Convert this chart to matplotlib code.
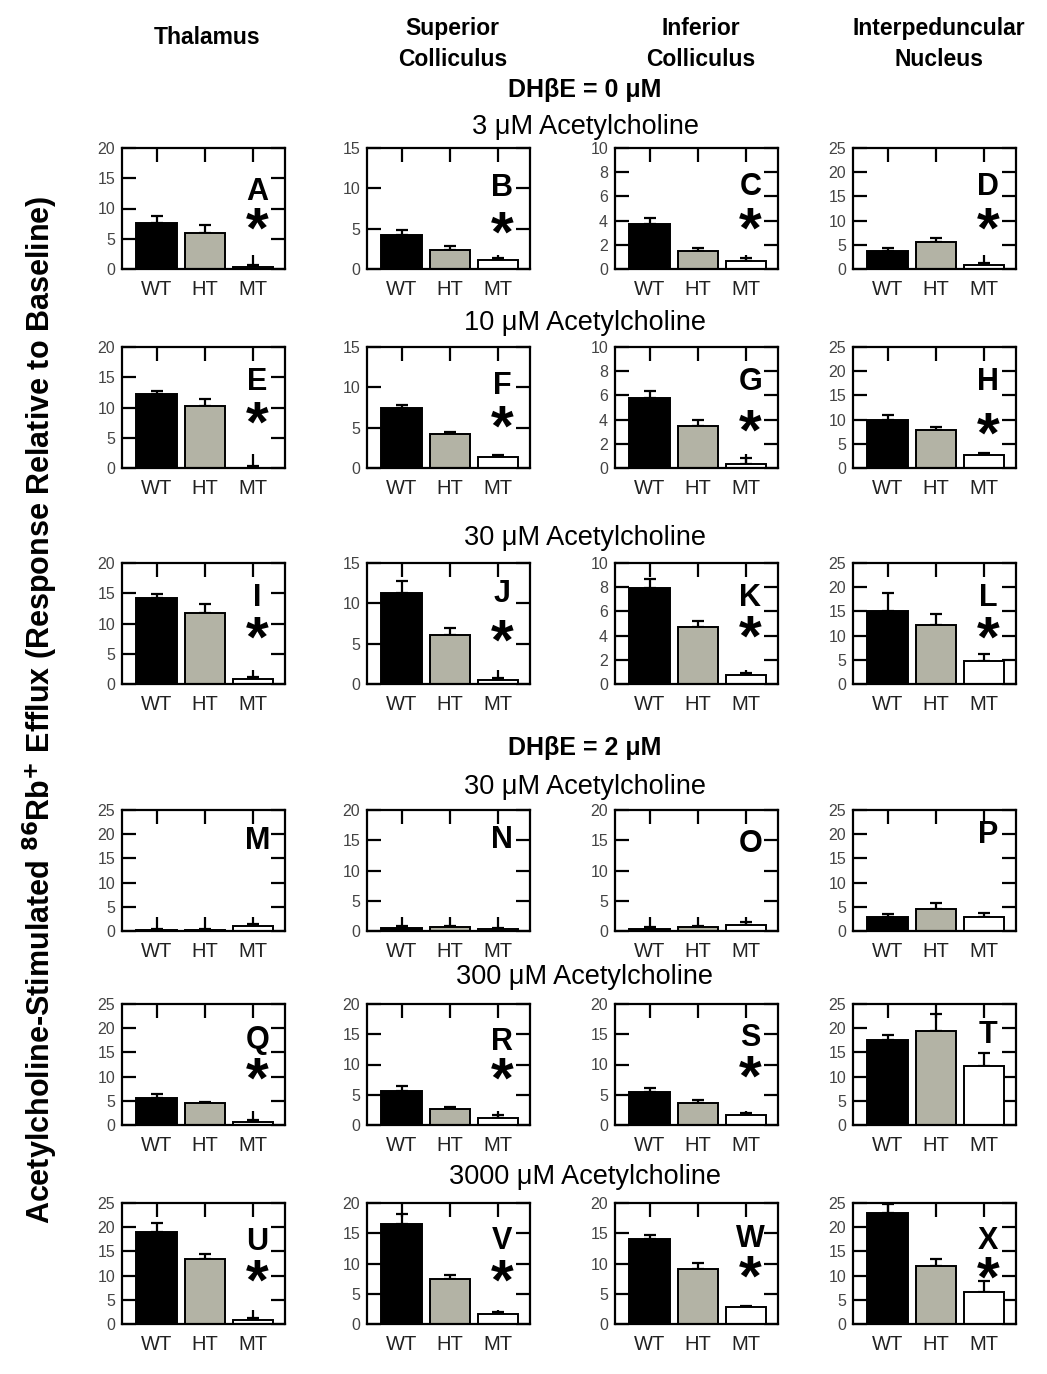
import numpy as np
import matplotlib.pyplot as plt

plt.rcParams['font.family'] = ['Liberation Sans', 'DejaVu Sans']

# ── DATA ──────────────────────────────────────────────────
genotypes = ["WT", "HT", "MT"]
panels = list("ABCDEFGHIJKLMNOPQRSTUVWX")
regions = ["Thalamus", "Superior\nColliculus", "Inferior\nColliculus", "Interpeduncular\nNucleus"]
row_titles = ["3 μM Acetylcholine", "10 μM Acetylcholine", "30 μM Acetylcholine",
              "30 μM Acetylcholine", "300 μM Acetylcholine", "3000 μM Acetylcholine"]
dhbe_titles = ["DHβE = 0 μM", "DHβE = 2 μM"]

wt_mean = [7.6, 4.2, 3.7, 3.8, 12.2, 7.4, 5.75, 9.9, 14.2, 11.3, 7.9, 15.1,
           0.3, 0.5, 0.4, 2.8, 5.6, 5.6, 5.4, 17.6, 19.1, 16.5, 14.1, 23.0]
wt_err  = [1.1, 0.6, 0.55, 0.5, 0.6, 0.4, 0.65, 1.1, 0.7, 1.5, 0.8, 3.7,
           0.2, 0.3, 0.2, 0.7, 0.9, 0.9, 0.7, 0.9, 1.7, 1.7, 0.65, 1.8]
ht_mean = [5.9, 2.3, 1.5, 5.5, 10.3, 4.2, 3.5, 7.8, 11.7, 6.1, 4.7, 12.2,
           0.3, 0.6, 0.6, 4.5, 4.6, 2.7, 3.6, 19.4, 13.4, 7.5, 9.1, 11.9]
ht_err  = [1.3, 0.6, 0.2, 1.0, 1.1, 0.3, 0.5, 0.7, 1.5, 0.8, 0.5, 2.3,
           0.2, 0.3, 0.3, 1.2, 0.2, 0.3, 0.45, 3.5, 1.1, 0.6, 0.95, 1.5]
mt_mean = [0.3, 1.1, 0.7, 0.8, 0.05, 1.35, 0.35, 2.7, 0.8, 0.5, 0.75, 4.8,
           1.0, 0.3, 1.0, 2.8, 0.7, 1.1, 1.7, 12.2, 0.8, 1.65, 2.75, 6.7]
mt_err  = [0.3, 0.3, 0.2, 0.5, 0.3, 0.25, 0.5, 0.4, 0.4, 0.3, 0.2, 1.3,
           0.4, 0.2, 0.5, 0.9, 0.4, 0.6, 0.3, 2.7, 0.4, 0.35, 0.25, 2.1]
significant = [True] * 12 + [False, False, False, False, True, True, True, False,
                             True, True, True, True]
y_max = [20, 15, 10, 25] * 3 + [25, 20, 20, 25] * 3

# ── STYLE / LAYOUT ────────────────────────────────────────
W, H = 1047, 1374
bar_colors = ["#000000", "#b3b3a5", "#ffffff"]
col_left = [122, 367, 615, 853]
row_top = [148, 347, 563, 810, 1004, 1203]
ax_w, ax_h = 163, 121
letter_y = [0.64, 0.67, 0.68, 0.68, 0.71, 0.68, 0.71, 0.71, 0.71, 0.74, 0.71, 0.71,
            0.74, 0.75, 0.72, 0.79, 0.70, 0.69, 0.72, 0.74, 0.68, 0.69, 0.70, 0.69]
star_y = [0.40, 0.37, 0.40, 0.40, 0.44, 0.41, 0.375, 0.35, 0.45, 0.43, 0.46, 0.45,
          0, 0, 0, 0, 0.45, 0.45, 0.47, 0, 0.43, 0.43, 0.46, 0.45]

fig = plt.figure(figsize=(W / 100, H / 100), dpi=100)

for i, p in enumerate(panels):
    r, c = divmod(i, 4)
    ax = fig.add_axes([col_left[c] / W, 1 - (row_top[r] + ax_h) / H, ax_w / W, ax_h / H])
    ax.set_axisbelow(True)
    x = np.arange(3)
    means = [wt_mean[i], ht_mean[i], mt_mean[i]]
    errs = [wt_err[i], ht_err[i], mt_err[i]]
    ax.errorbar(x, means, yerr=[np.zeros(3), errs], fmt="none", ecolor="black",
                elinewidth=1.6, capsize=4, capthick=1.6, zorder=1)
    ax.bar(x, means, width=0.84, color=bar_colors, edgecolor="black",
           linewidth=1.4, zorder=2)
    ax.set_xlim(-0.72, 2.66)
    ax.set_ylim(0, y_max[i])
    step = 2 if y_max[i] == 10 else 5
    ax.set_yticks(np.arange(0, y_max[i] + 0.1, step))
    ax.set_xticks(x)
    ax.set_xticklabels(genotypes, fontsize=14.5, color="#222222")
    ax.tick_params(axis="y", direction="in", length=10, width=1.6, left=True,
                   right=True, labelsize=11.5, labelcolor="#444444", pad=5)
    ax.tick_params(axis="x", direction="in", length=10, width=1.6, top=True,
                   bottom=True, pad=8)
    for s in ax.spines.values():
        s.set_linewidth(1.6)
        s.set_zorder(3)
    ax.text(0.83, letter_y[i], p, transform=ax.transAxes, ha="center",
            va="center", fontsize=22, fontweight="bold")
    if significant[i]:
        ax.text(0.83, star_y[i] - 0.10, "*", transform=ax.transAxes, ha="center",
                va="center", fontsize=42, fontweight="bold")

# column headers
header_y = [38, 44, 44, 44]
for c, name in enumerate(regions):
    fig.text((col_left[c] + ax_w / 2 + 4) / W, 1 - header_y[c] / H, name,
             ha="center", va="center", fontsize=16.5, fontweight="bold",
             linespacing=1.45)

# section titles
cx = 585 / W
fig.text(cx, 1 - 90 / H, dhbe_titles[0], ha="center", va="center",
         fontsize=18, fontweight="bold")
fig.text(cx, 1 - 748 / H, dhbe_titles[1], ha="center", va="center",
         fontsize=18, fontweight="bold")
for t, yp in zip(row_titles, [127, 323, 538, 787, 977, 1177]):
    fig.text(cx, 1 - yp / H, t, ha="center", va="center", fontsize=19.5)

fig.text(40 / W, 1 - 710 / H,
         "Acetylcholine-Stimulated $\\mathbf{^{86}}$Rb$\\mathbf{^{+}}$ Efflux (Response Relative to Baseline)",
         rotation=90, ha="center", va="center", fontsize=22, fontweight="bold")

fig.savefig("out.png", dpi=100)
